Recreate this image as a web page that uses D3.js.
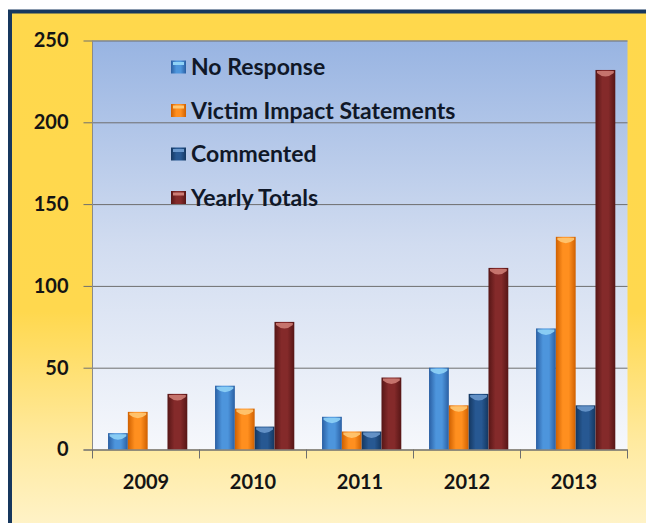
<!DOCTYPE html>
<html>
<head>
<meta charset="utf-8">
<script src="https://cdn.jsdelivr.net/npm/d3@7"></script>
<style>
    html, body { margin: 0; padding: 0; background: #ffffff; }
    #chart { width: 646px; height: 523px; }
    text { font-family: "Lato", "Open Sans", sans-serif; font-weight: bold; }
</style>
</head>
<body>
<div id="chart"></div>
<script>
// Chart data
const years = ["2009", "2010", "2011", "2012", "2013"];
const seriesNames = ["No Response", "Victim Impact Statements", "Commented", "Yearly Totals"];
const noResponse = [10, 39, 20, 50, 74];
const victimImpact = [23, 25, 11, 27, 130];
const commented = [0, 14, 11, 34, 27];
const yearlyTotals = [34, 78, 44, 111, 232];
const yTicks = [0, 50, 100, 150, 200, 250];

const seriesValues = [noResponse, victimImpact, commented, yearlyTotals];

// Colours per series: edge, highlight, cap
const palette = [
    { edge: "#2a5fa3", mid: "#4d95dc", cap: "#8fd2f6" },
    { edge: "#cf6000", mid: "#ff8f1f", cap: "#ffc873" },
    { edge: "#143760", mid: "#275892", cap: "#6a98cc" },
    { edge: "#561616", mid: "#842a2a", cap: "#cd7c74" }
];

const width = 646;
const height = 523;
const margin = { top: 40.5, right: 18.5, bottom: 73.5, left: 92.5 };

const svg = d3.select("#chart")
    .append("svg")
    .attr("width", width)
    .attr("height", height);

const defs = svg.append("defs");

// Outer panel gradient (yellow fading to cream)
const panelGrad = defs.append("linearGradient")
    .attr("id", "panelGrad")
    .attr("x1", 0).attr("y1", 0).attr("x2", 0).attr("y2", 1);
panelGrad.append("stop").attr("offset", "0%").attr("stop-color", "#ffd84c");
panelGrad.append("stop").attr("offset", "50%").attr("stop-color", "#ffd84e");
panelGrad.append("stop").attr("offset", "72%").attr("stop-color", "#ffeaa0");
panelGrad.append("stop").attr("offset", "100%").attr("stop-color", "#fffcf2");

// Plot area gradient (blue fading to white)
const plotGrad = defs.append("linearGradient")
    .attr("id", "plotGrad")
    .attr("x1", 0).attr("y1", 0).attr("x2", 0).attr("y2", 1);
plotGrad.append("stop").attr("offset", "0%").attr("stop-color", "#98b4e2");
plotGrad.append("stop").attr("offset", "50%").attr("stop-color", "#d1dcf0");
plotGrad.append("stop").attr("offset", "100%").attr("stop-color", "#f6f8fc");

// Cylinder-like gradient per series
palette.forEach((c, i) => {
    const g = defs.append("linearGradient")
        .attr("id", `barGrad${i}`)
        .attr("x1", 0).attr("y1", 0).attr("x2", 1).attr("y2", 0);
    g.append("stop").attr("offset", "0%").attr("stop-color", c.edge);
    g.append("stop").attr("offset", "35%").attr("stop-color", c.mid);
    g.append("stop").attr("offset", "65%").attr("stop-color", c.mid);
    g.append("stop").attr("offset", "100%").attr("stop-color", c.edge);
});

// Panel with dark border (right and bottom run off the picture)
svg.append("rect")
    .attr("x", 10)
    .attr("y", 11.5)
    .attr("width", 700)
    .attr("height", 600)
    .attr("fill", "url(#panelGrad)")
    .attr("stroke", "#17375e")
    .attr("stroke-width", 4);

// Scales
const xScale = d3.scaleBand()
    .domain(years)
    .range([margin.left, width - margin.right])
    .padding(0);

const x1 = d3.scaleBand()
    .domain(seriesNames)
    .range([0, xScale.bandwidth()])
    .paddingInner(0)
    .paddingOuter(0.7)
    .align(0.56);

const yScale = d3.scaleLinear()
    .domain([0, 250])
    .range([height - margin.bottom, margin.top]);

// Plot area background
svg.append("rect")
    .attr("x", margin.left)
    .attr("y", margin.top)
    .attr("width", width - margin.right - margin.left)
    .attr("height", yScale(0) - margin.top)
    .attr("fill", "url(#plotGrad)");

// Y axis with gridlines
const yAxis = d3.axisLeft(yScale)
    .tickValues(yTicks)
    .tickSize(-(width - margin.right - margin.left) - 9)
    .tickPadding(14)
    .tickFormat(d3.format("d"));

const yAxisG = svg.append("g")
    .attr("transform", `translate(${width - margin.right}, 0)`)
    .call(yAxis);
yAxisG.select(".domain").remove();
yAxisG.selectAll(".tick line")
    .attr("stroke", "#6e6e6e")
    .attr("transform", `translate(${-(width - margin.right - margin.left)}, 0)`)
    .attr("x1", -9)
    .attr("x2", width - margin.right - margin.left);
yAxisG.selectAll(".tick text")
    .attr("x", -(width - margin.right - margin.left) - 24)
    .attr("font-size", "20px")
    .attr("fill", "#141414");

// Vertical axis line
svg.append("line")
    .attr("x1", margin.left).attr("x2", margin.left)
    .attr("y1", margin.top).attr("y2", yScale(0))
    .attr("stroke", "#8a8a8a");

// Bars
const groups = svg.append("g")
    .selectAll("g")
    .data(years)
    .join("g")
    .attr("transform", d => `translate(${xScale(d)}, 0)`);

seriesNames.forEach((name, si) => {
    const vals = seriesValues[si];
    const bw = x1.bandwidth();

    groups.filter((d, yi) => vals[yi] > 0)
        .append("rect")
        .attr("x", x1(name))
        .attr("y", (d) => yScale(vals[years.indexOf(d)]))
        .attr("width", bw)
        .attr("height", (d) => yScale(0) - yScale(vals[years.indexOf(d)]))
        .attr("fill", `url(#barGrad${si})`);

    // Lighter cap at the top of each bar
    groups.filter((d, yi) => vals[yi] > 0)
        .append("path")
        .attr("d", (d) => {
            const x0 = x1(name) + 1.5;
            const xr = x1(name) + bw - 1.5;
            const top = yScale(vals[years.indexOf(d)]) + 1;
            return `M${x0},${top} L${xr},${top} L${xr},${top + 2} Q${(x0 + xr) / 2},${top + 9} ${x0},${top + 2} Z`;
        })
        .attr("fill", palette[si].cap)
        .attr("opacity", 0.9);
});

// X axis
const xAxis = d3.axisBottom(xScale)
    .tickSize(0)
    .tickPadding(25);

const xAxisG = svg.append("g")
    .attr("transform", `translate(0, ${yScale(0)})`)
    .call(xAxis);
xAxisG.select(".domain")
    .attr("d", `M${margin.left - 9},0.5H${width - margin.right}`)
    .attr("stroke", "#6e6e6e");
xAxisG.selectAll(".tick text")
    .attr("font-size", "20px")
    .attr("fill", "#141414");

// Category boundary ticks
svg.append("g")
    .selectAll("line")
    .data(years.concat(["end"]))
    .join("line")
    .attr("x1", (d, i) => margin.left + i * xScale.step())
    .attr("x2", (d, i) => margin.left + i * xScale.step())
    .attr("y1", yScale(0))
    .attr("y2", yScale(0) + 9)
    .attr("stroke", "#6e6e6e");

// Legend
const legend = svg.append("g")
    .attr("transform", "translate(171, 67)");

const items = legend.selectAll("g")
    .data(seriesNames)
    .join("g")
    .attr("transform", (d, i) => `translate(0, ${i * 43.5})`);

items.append("rect")
    .attr("x", 0)
    .attr("y", -6.5)
    .attr("width", 15)
    .attr("height", 13)
    .attr("fill", (d, i) => `url(#barGrad${i})`);

items.append("rect")
    .attr("x", 2)
    .attr("y", -5)
    .attr("width", 11)
    .attr("height", 3)
    .attr("fill", (d, i) => palette[i].cap);

items.append("text")
    .attr("x", 20)
    .attr("y", 0)
    .attr("dy", "0.36em")
    .attr("font-size", "23px")
    .attr("fill", "#101828")
    .text(d => d);
</script>
</body>
</html>
